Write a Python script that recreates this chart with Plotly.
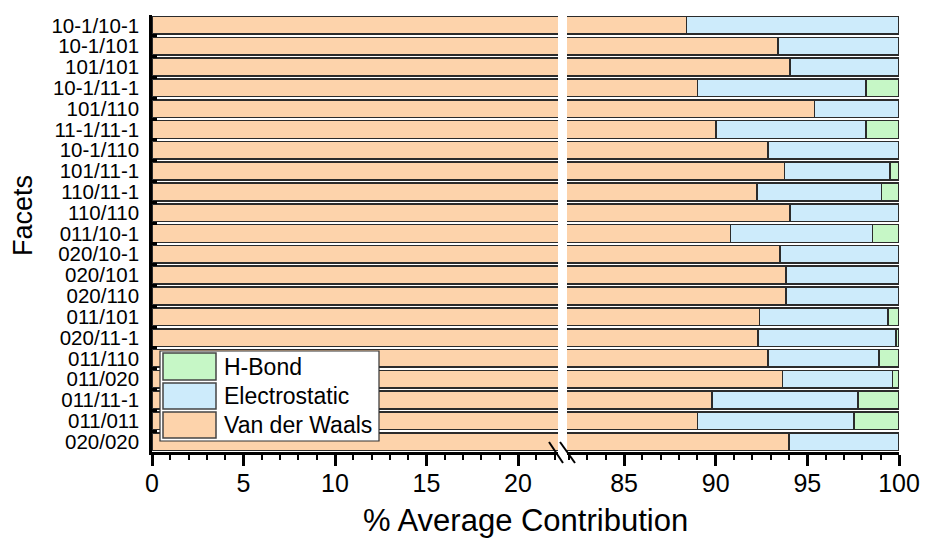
import plotly.graph_objects as go

# ---------------- data ----------------
facets = ["10-1/10-1", "10-1/101", "101/101", "10-1/11-1", "101/110", "11-1/11-1",
          "10-1/110", "101/11-1", "110/11-1", "110/110", "011/10-1", "020/10-1",
          "020/101", "020/110", "011/101", "020/11-1", "011/110", "011/020",
          "011/11-1", "011/011", "020/020"]
van_der_waals = [88.4, 93.4, 94.05, 89.0, 95.4, 90.0, 92.85, 93.75, 92.25, 94.05,
                 90.8, 93.5, 93.85, 93.85, 92.4, 92.3, 92.85, 93.65, 89.8, 89.0, 94.0]
electrostatic = [11.6, 6.6, 5.95, 9.2, 4.6, 8.2, 7.15, 5.75, 6.8, 5.95,
                 7.75, 6.5, 6.15, 6.15, 7.0, 7.55, 6.05, 6.0, 7.95, 8.55, 6.0]
h_bond = [0, 0, 0, 1.8, 0, 1.8, 0, 0.5, 0.95, 0,
          1.45, 0, 0, 0, 0.6, 0.15, 1.1, 0.35, 2.25, 2.45, 0]

series_names = ["Van der Waals", "Electrostatic", "H-Bond"]
series_colors = ["#FDD3AB", "#CDEBFB", "#C6F7C6"]
left_ticks = [0, 5, 10, 15, 20]
right_ticks = [85, 90, 95, 100]

# ---------------- layout geometry (pixels) ----------------
W, H = 925, 547
L, R, T, B = 152, 899, 15, 452
PW, PH = R - L, B - T


def px(x):
    return (x - L) / PW


def py(y):
    return (B - y) / PH


FONT = "Arial, 'Liberation Sans', sans-serif"
OUTLINE = "#2b2b2b"

fig = go.Figure()
series_values = [van_der_waals, electrostatic, h_bond]
for xa in ["x", "x2"]:
    for name, vals, col in zip(series_names, series_values, series_colors):
        fig.add_trace(go.Bar(
            y=facets, x=vals, orientation="h", name=name,
            marker=dict(color=col, line=dict(color=OUTLINE, width=1.6)),
            xaxis=xa, yaxis="y", showlegend=False,
        ))

axis_common = dict(
    showline=True, linecolor="black", linewidth=2.5,
    ticks="outside", ticklen=11, tickwidth=2.5, tickcolor="black",
    minor=dict(ticks="outside", ticklen=5, tickwidth=2, tickcolor="black", dtick=1),
    showgrid=False, zeroline=False, automargin=False,
    tickfont=dict(family=FONT, size=25, color="black"),
    ticklabelstandoff=-4,
)

left_end = px(558)
right_start = px(567)
fig.update_layout(
    width=W, height=H,
    margin=dict(l=L, r=W - R, t=T, b=H - B),
    paper_bgcolor="white", plot_bgcolor="white",
    barmode="stack", bargap=0.15,
    xaxis=dict(domain=[0, left_end], range=[0, (558 - L) / 18.3],
               tickmode="array", tickvals=left_ticks, anchor="y", **axis_common),
    xaxis2=dict(domain=[right_start, 1], range=[100 - (899 - 567) / 18.33, 100.0001],
                tickmode="array", tickvals=right_ticks, anchor="y", **axis_common),
    yaxis=dict(autorange="reversed", showline=True, linecolor="black", linewidth=2.5,
               ticks="inside", ticklen=5, tickwidth=2.5, tickcolor="black",
               tickson="boundaries", showgrid=False, zeroline=False, automargin=False,
               tickmode="array", tickvals=facets, ticktext=facets,
               tickfont=dict(family=FONT, size=20.5, color="black"),
               ticklabelstandoff=6, anchor="x"),
    showlegend=False,
)

# axis break marks
for x0, x1 in [(549, 563), (560, 575)]:
    fig.add_shape(type="line", xref="paper", yref="paper",
                  x0=px(x0), y0=py(442), x1=px(x1), y1=py(463),
                  line=dict(color="black", width=2))

# custom legend
fig.add_shape(type="rect", xref="paper", yref="paper",
              x0=px(160), x1=px(379), y0=py(351), y1=py(441),
              fillcolor="white", line=dict(color="#333333", width=1.2), layer="above")
legend_rows = [("H-Bond", series_colors[2], 353, 380),
               ("Electrostatic", series_colors[1], 383, 409),
               ("Van der Waals", series_colors[0], 412, 438)]
for label, col, y0, y1 in legend_rows:
    fig.add_shape(type="rect", xref="paper", yref="paper",
                  x0=px(163), x1=px(216), y0=py(y0), y1=py(y1),
                  fillcolor=col, line=dict(color="#444444", width=1.5), layer="above")
    fig.add_annotation(xref="paper", yref="paper", x=px(222), y=py((y0 + y1) / 2),
                       text=label, showarrow=False, xanchor="left", yanchor="middle",
                       font=dict(family=FONT, size=23, color="black"))

# axis titles
fig.add_annotation(xref="paper", yref="paper", x=px(525), y=py(520),
                   text="% Average Contribution", showarrow=False,
                   xanchor="center", yanchor="middle",
                   font=dict(family=FONT, size=31, color="black"))
fig.add_annotation(xref="paper", yref="paper", x=px(23), y=py(216),
                   text="Facets", showarrow=False, textangle=-90,
                   xanchor="center", yanchor="middle",
                   font=dict(family=FONT, size=27, color="black"))

fig.write_html("out.html")
